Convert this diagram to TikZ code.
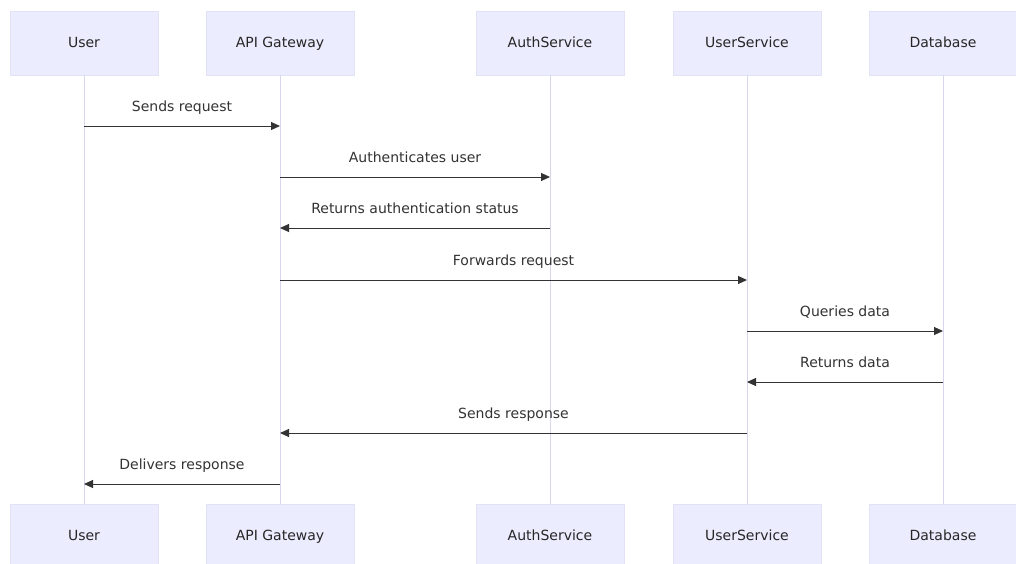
\documentclass[tikz,border=0pt]{standalone}
\usepackage{fontspec}
\setmainfont{DejaVu Sans}
\usetikzlibrary{arrows.meta}
\definecolor{actorfill}{HTML}{ECECFF}
\definecolor{actorline}{HTML}{E2E2F6}
\definecolor{lifecolor}{HTML}{D6D6EC}
\definecolor{msgcolor}{HTML}{333333}
\begin{document}
\begin{tikzpicture}[x=1pt,y=-1pt,
  actor/.style={draw=actorline, fill=actorfill, minimum width=148pt, minimum height=64pt, inner sep=0pt, text height=1.9ex, text depth=0.1ex, font=\fontsize{14}{16}\selectfont, text=black!85},
  lifeline/.style={draw=lifecolor, line width=1pt},
  msg/.style={draw=msgcolor, line width=1pt, -{Triangle[length=9pt,width=8pt]}},
  msglabel/.style={above=11pt, inner sep=1pt, text height=1.6ex, text depth=0.4ex, font=\fontsize{14}{16}\selectfont, text=black!80}]
\useasboundingbox[fill=white] (0,0) rectangle (1016,563);
% actors, top and bottom, with their lifelines
\foreach \name/\txt/\x in {user/User/84, gw/API Gateway/280, auth/AuthService/550, us/UserService/747, db/Database/943} {
  \node[actor] (\name-top) at (\x,43) {\txt};
  \node[actor] (\name-bot) at (\x,536) {\txt};
  \draw[lifeline] (\name-top.south) -- (\name-bot.north);
}
% messages
\foreach \n/\from/\to/\y/\txt in {1/user/gw/126/Sends request, 2/gw/auth/177/Authenticates user, 3/auth/gw/228/Returns authentication status, 4/gw/us/280/Forwards request, 5/us/db/331/Queries data, 6/db/us/382/Returns data, 7/us/gw/433/Sends response, 8/gw/user/484/Delivers response} {
  \coordinate (m\n-from) at (\from-top.south |- 0,\y);
  \coordinate (m\n-to) at (\to-top.south |- 0,\y);
  \draw[msg] (m\n-from) -- node[msglabel] {\txt} (m\n-to);
}
\end{tikzpicture}
\end{document}
